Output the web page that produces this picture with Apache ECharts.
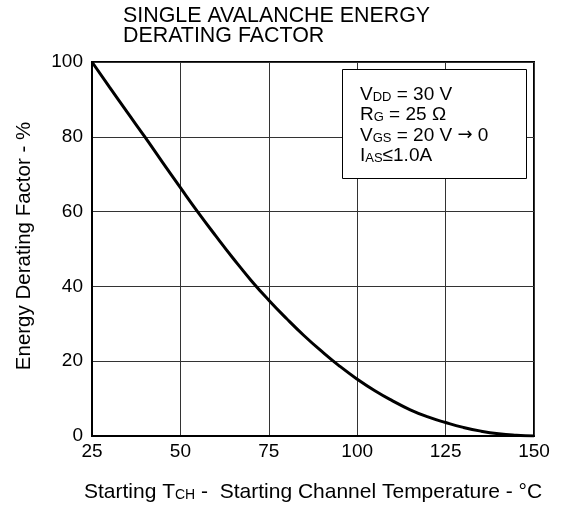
<!DOCTYPE html>
<html>
<head>
<meta charset="utf-8">
<script src="https://cdn.jsdelivr.net/npm/echarts@6/dist/echarts.min.js"></script>
<style>
html,body{margin:0;padding:0;background:#fff;}
#c{width:562px;height:508px;}
</style>
</head>
<body>
<div id="c"></div>
<script>
// Data
var temperatures = [25, 30, 35, 40, 45, 50, 55, 60, 65, 70, 75, 80, 85, 90, 95, 100, 105, 110, 115, 120, 125, 130, 135, 140, 145, 150];
var deratingFactor = [100, 93.2, 86.5, 79.9, 73.1, 66.4, 59.8, 53.5, 47.4, 41.6, 36.3, 31.4, 26.8, 22.6, 18.7, 15.2, 12.1, 9.4, 7.0, 5.1, 3.6, 2.3, 1.3, 0.6, 0.2, 0];
var xTicks = [25, 50, 75, 100, 125, 150];
var yTicks = [0, 20, 40, 60, 80, 100];
var titleLines = ['SINGLE AVALANCHE ENERGY', 'DERATING FACTOR'];

var FONT = '"Liberation Sans", Arial, sans-serif';
var chart = echarts.init(document.getElementById('c'), null, {renderer: 'canvas'});

var points = temperatures.map(function (t, i) { return [t, deratingFactor[i]]; });

var option = {
  backgroundColor: '#fff',
  animation: false,
  title: {
    text: titleLines.join('\n'),
    left: 118, top: 1,
    textStyle: {fontFamily: FONT, fontSize: 21.4, fontWeight: 'normal', color: '#000', lineHeight: 20}
  },
  grid: {left: 92, right: 28, top: 62, bottom: 72, show: true, borderColor: '#000', borderWidth: 2, containLabel: false},
  xAxis: {
    type: 'value', min: xTicks[0], max: xTicks[xTicks.length - 1], interval: 25,
    name: '{n|Starting T}{s|CH}{n| -  Starting Channel Temperature - °C}',
    nameLocation: 'middle', nameGap: 46,
    nameTextStyle: {
      fontFamily: FONT, color: '#000',
      rich: {
        n: {fontFamily: FONT, fontSize: 21, color: '#000'},
        s: {fontFamily: FONT, fontSize: 14, color: '#000', padding: [6, 0, 0, 0]}
      }
    },
    axisLine: {lineStyle: {color: '#000', width: 2}},
    axisTick: {show: false},
    axisLabel: {fontFamily: FONT, fontSize: 19, color: '#000', margin: 6},
    splitLine: {show: true, lineStyle: {color: '#333', width: 1}}
  },
  yAxis: {
    type: 'value', min: yTicks[0], max: yTicks[yTicks.length - 1], interval: 20,
    name: 'Energy Derating Factor - %',
    nameLocation: 'middle', nameGap: 57,
    nameTextStyle: {fontFamily: FONT, fontSize: 20.5, color: '#000', padding: [0, 0, 0, 6]},
    axisLine: {show: true, lineStyle: {color: '#000', width: 2}},
    axisTick: {show: false},
    axisLabel: {fontFamily: FONT, fontSize: 19, color: '#000', margin: 9},
    splitLine: {show: true, lineStyle: {color: '#333', width: 1}}
  },
  series: [{
    type: 'line',
    data: points,
    smooth: true,
    showSymbol: false,
    lineStyle: {color: '#000', width: 3},
    z: 5
  }],
  graphic: [
    {type: 'rect', z: 100, left: 342, top: 69, shape: {width: 184, height: 109},
     style: {fill: '#ffffff', stroke: '#000', lineWidth: 1}},
    {type: 'text', z: 101, left: 360, top: 85,
     style: {
       text: '{n|V}{s|DD}{n| = 30 V}\n{n|R}{s|G}{n| = 25 Ω}\n{n|V}{s|GS}{n| = 20 V }{a|→}{n| 0}\n{n|I}{s|AS}{n|≤1.0A}',
       fontFamily: FONT, fill: '#000',
       rich: {
         n: {fontFamily: FONT, fontSize: 19, lineHeight: 20.5, fill: '#000', color: '#000'},
         a: {fontFamily: '"DejaVu Sans"', fontSize: 18, lineHeight: 20.5, fill: '#000', color: '#000'},
         s: {fontFamily: FONT, fontSize: 13, lineHeight: 20.5, fill: '#000', color: '#000', padding: [5, 0, 0, 0]}
       }
     }}
  ]
};
chart.setOption(option);
</script>
</body>
</html>
